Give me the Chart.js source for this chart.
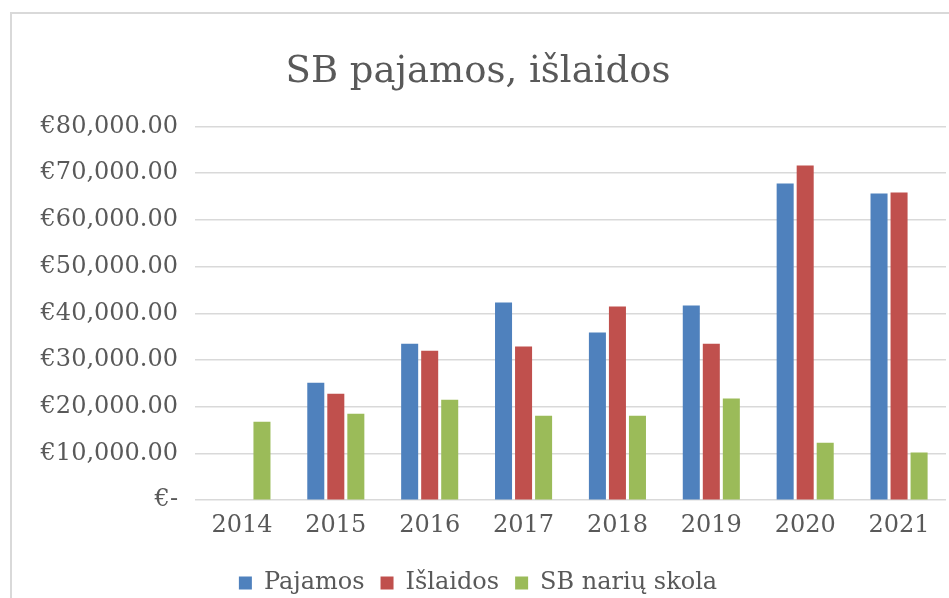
<!DOCTYPE html>
<html>
<head>
<meta charset="utf-8">
<script src="https://cdn.jsdelivr.net/npm/chart.js@4.4.0/dist/chart.umd.min.js"></script>
<style>
  html, body { margin: 0; padding: 0; background: #fff; overflow: hidden; }
  #frame { position: absolute; left: 10px; top: 12px; width: 960px; height: 620px; border: 2px solid #d9d9d9; box-sizing: border-box; }
  #wrap { position: absolute; left: 0; top: 0; width: 949px; height: 605px; }
</style>
</head>
<body>
<div id="frame"></div>
<div id="wrap"><canvas id="chart"></canvas></div>
<script>
const years = ["2014", "2015", "2016", "2017", "2018", "2019", "2020", "2021"];
const pajamos = [null, 25150, 33500, 42300, 35900, 41650, 67800, 65650];
const islaidos = [null, 22800, 32000, 32900, 41450, 33500, 71650, 65850];
const skola = [16800, 18500, 21500, 18100, 18100, 21750, 12300, 10200];

const textColor = "#595959";
const fontFamily = "'DejaVu Serif', serif";

const euro = (v) => {
  if (v === 0) return "€-";
  return "€" + v.toLocaleString("en-US", { minimumFractionDigits: 2, maximumFractionDigits: 2 });
};

const ctx = document.getElementById("chart").getContext("2d");

new Chart(ctx, {
  type: "bar",
  data: {
    labels: years,
    datasets: [
      { label: "Pajamos", data: pajamos, backgroundColor: "#4f81bd" },
      { label: "Išlaidos", data: islaidos, backgroundColor: "#c0504d" },
      { label: "SB narių skola", data: skola, backgroundColor: "#9bbb59" },
    ],
  },
  options: {
    responsive: true,
    maintainAspectRatio: false,
    animation: false,
    datasets: {
      bar: { categoryPercentage: 0.64, barPercentage: 0.85 },
    },
    layout: { padding: { left: 10, right: 3, top: 50, bottom: 0 } },
    plugins: {
      title: {
        display: true,
        text: "SB pajamos, išlaidos",
        color: textColor,
        font: { family: fontFamily, size: 37, weight: "normal" },
        padding: { top: 0, bottom: 32 },
      },
      legend: {
        position: "bottom",
        labels: {
          color: textColor,
          font: { family: fontFamily, size: 24 },
          boxWidth: 13,
          boxHeight: 13,
          padding: 16,
        },
      },
      tooltip: { enabled: false },
    },
    scales: {
      x: {
        afterFit: (scale) => { scale.height += 12; },
        grid: { display: false },
        border: { display: false },
        ticks: {
          color: textColor,
          font: { family: fontFamily, size: 24 },
          maxRotation: 0,
          padding: 3,
        },
      },
      y: {
        min: 0,
        max: 80000,
        afterFit: (scale) => { scale.width = 185; },
        grid: { color: "#d9d9d9", lineWidth: 1.5, drawTicks: false },
        border: { display: false },
        ticks: {
          stepSize: 10000,
          color: textColor,
          font: { family: fontFamily, size: 24 },
          padding: 17,
          callback: (v) => euro(v),
        },
      },
    },
  },
});
</script>
</body>
</html>
